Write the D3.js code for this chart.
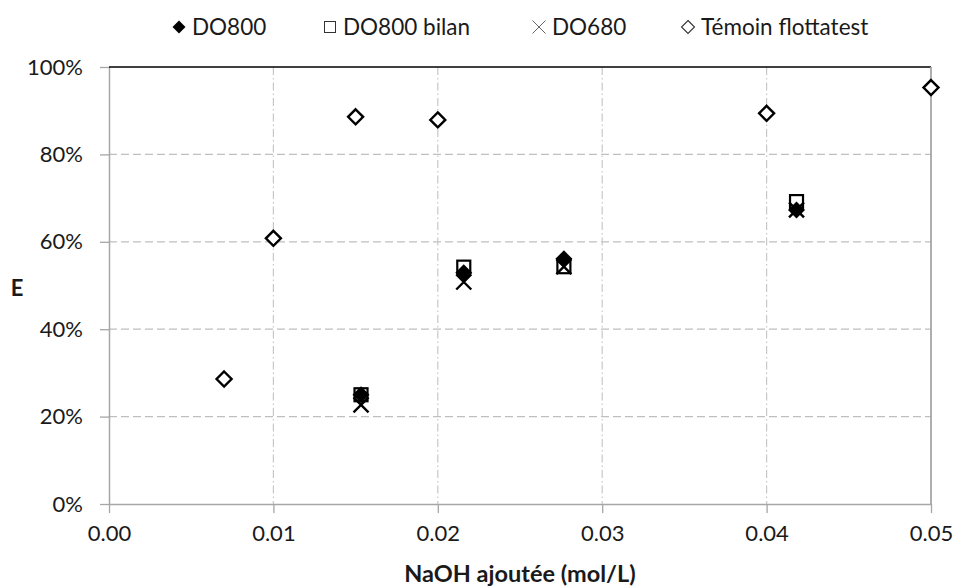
<!DOCTYPE html>
<html><head><meta charset="utf-8">
<script src="https://cdn.jsdelivr.net/npm/d3@7"></script>
<style>html,body{margin:0;padding:0;background:#fff;}</style>
</head><body>
<svg id="c" width="956" height="586"></svg>
<script>
// Data
const xNaOH = [0.01533, 0.02158, 0.02767, 0.04182];
const do800 = [25.0, 52.9, 56.1, 67.3];
const do800Bilan = [25.0, 54.2, 54.3, 69.2];
const do680 = [22.7, 50.8, 54.3, 67.3];
const xTemoin = [0.007, 0.01, 0.015, 0.02, 0.04, 0.05];
const temoin = [28.6, 60.8, 88.6, 87.9, 89.4, 95.3];
const xTicks = [0, 0.01, 0.02, 0.03, 0.04, 0.05];
const yTicks = [0, 20, 40, 60, 80, 100];
const seriesNames = ["DO800", "DO800 bilan", "DO680", "Témoin flottatest"];

const FONT = "Lato, 'Open Sans', sans-serif";
const svg = d3.select("#c");
const L = 109, R = 931, T = 67, B = 504;
const x = d3.scaleLinear().domain([0, 0.05]).range([L, R]);
const y = d3.scaleLinear().domain([0, 100]).range([B, T]);

// grid
const g = svg.append("g");
g.selectAll(".hg").data(yTicks.filter(d => d > 0 && d < 100)).join("line")
  .attr("x1", L).attr("x2", R).attr("y1", d => y(d)).attr("y2", d => y(d))
  .attr("stroke", "#bfbfbf").attr("stroke-width", 1.3).attr("stroke-dasharray", "8,4");
g.selectAll(".vg").data(xTicks.filter(d => d > 0 && d < 0.05)).join("line")
  .attr("y1", T).attr("y2", B).attr("x1", d => x(d)).attr("x2", d => x(d))
  .attr("stroke", "#c8c8c8").attr("stroke-width", 1.2).attr("stroke-dasharray", "8,3,1.5,3");

// axes
const xAxis = d3.axisBottom(x).tickValues(xTicks).tickFormat(d3.format(".2f")).tickSizeInner(9).tickSizeOuter(0).tickPadding(12);
const yAxis = d3.axisLeft(y).tickValues(yTicks).tickFormat(d => d + "%").tickSizeInner(9).tickSizeOuter(0).tickPadding(17);
const gx = svg.append("g").attr("transform", `translate(0,${B})`).call(xAxis);
const gy = svg.append("g").attr("transform", `translate(${L},0)`).call(yAxis);
[gx, gy].forEach(a => {
  a.select(".domain").attr("stroke", "#a6a6a6").attr("stroke-width", 1.5);
  a.selectAll(".tick line").attr("stroke", "#a6a6a6").attr("stroke-width", 1.3);
  a.selectAll(".tick text").attr("fill", "#1a1a1a").style("font-family", FONT).style("font-size", "22px");
});
// top and right border
svg.append("line").attr("x1", L).attr("x2", R).attr("y1", T).attr("y2", T).attr("stroke", "#000").attr("stroke-width", 1.6);
svg.append("line").attr("x1", R).attr("x2", R).attr("y1", T).attr("y2", B).attr("stroke", "#a6a6a6").attr("stroke-width", 1.8);

// axis titles
svg.append("text").attr("x", (L + R) / 2).attr("y", 582).attr("text-anchor", "middle")
  .style("font-family", FONT).style("font-size", "23.5px").style("font-weight", "bold").attr("fill", "#1a1a1a")
  .text("NaOH ajoutée (mol/L)");
svg.append("text").attr("x", 17).attr("y", 296).attr("text-anchor", "middle")
  .style("font-family", FONT).style("font-size", "22px").style("font-weight", "bold").attr("fill", "#1a1a1a")
  .text("E");

// marker shapes
function diamond(s) { return `M0,${-s}L${s},0L0,${s}L${-s},0Z`; }
function cross(s) { return `M${-s},${-s}L${s},${s}M${-s},${s}L${s},${-s}`; }

const pts = svg.append("g");
pts.selectAll(".d800").data(xNaOH.map((v, i) => [v, do800[i]])).join("path")
  .attr("transform", d => `translate(${x(d[0])},${y(d[1])})`).attr("d", diamond(8.5)).attr("fill", "#000");
pts.selectAll(".bil").data(xNaOH.map((v, i) => [v, do800Bilan[i]])).join("rect")
  .attr("x", d => x(d[0]) - 6.5).attr("y", d => y(d[1]) - 6.5).attr("width", 13).attr("height", 13)
  .attr("fill", "none").attr("stroke", "#000").attr("stroke-width", 2.2);
pts.selectAll(".d680").data(xNaOH.map((v, i) => [v, do680[i]])).join("path")
  .attr("transform", d => `translate(${x(d[0])},${y(d[1])})`).attr("d", cross(7.5))
  .attr("fill", "none").attr("stroke", "#000").attr("stroke-width", 2.4);
pts.selectAll(".tem").data(xTemoin.map((v, i) => [v, temoin[i]])).join("path")
  .attr("transform", d => `translate(${x(d[0])},${y(d[1])})`).attr("d", diamond(7.5))
  .attr("fill", "#fff").attr("stroke", "#000").attr("stroke-width", 2.4);

// legend
const legX = [179, 330, 539, 688];
const leg = svg.append("g");
seriesNames.forEach((name, i) => {
  const cx = legX[i], cy = 27;
  if (i === 0) leg.append("path").attr("transform", `translate(${cx},${cy})`).attr("d", diamond(6.5)).attr("fill", "#000");
  if (i === 1) leg.append("rect").attr("x", cx - 5.5).attr("y", cy - 5.5).attr("width", 11).attr("height", 11).attr("fill", "none").attr("stroke", "#333").attr("stroke-width", 1);
  if (i === 2) leg.append("path").attr("transform", `translate(${cx},${cy})`).attr("d", cross(6.5)).attr("fill", "none").attr("stroke", "#666").attr("stroke-width", 1);
  if (i === 3) leg.append("path").attr("transform", `translate(${cx},${cy})`).attr("d", diamond(6.5)).attr("fill", "none").attr("stroke", "#333").attr("stroke-width", 1.1);
  leg.append("text").attr("x", cx + 13).attr("y", cy + 8).style("font-family", FONT).style("font-size", "22.5px").attr("fill", "#1a1a1a").text(name);
});
</script>
</body></html>
